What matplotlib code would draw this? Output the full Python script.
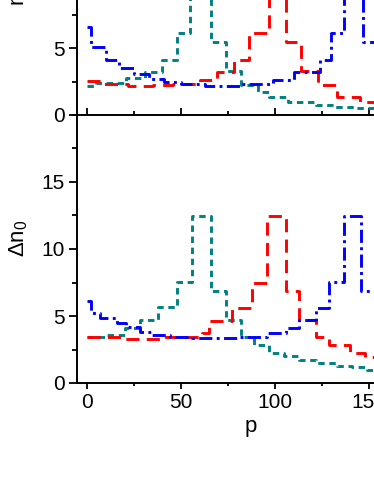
import numpy as np
import matplotlib
matplotlib.use("Agg")
import matplotlib.pyplot as plt
from matplotlib.ticker import MultipleLocator, FixedLocator

plt.rcParams["font.family"] = ["Liberation Sans", "DejaVu Sans"]
plt.rcParams["mathtext.fontset"] = "custom"
plt.rcParams["mathtext.rm"] = "Liberation Sans"
plt.rcParams["mathtext.it"] = "Liberation Sans:italic"

# step data: value holds from p[i] to p[i+1]
# top panel (n0)
p_teal_top = [0, 5, 21, 31, 40, 48, 55, 66, 74, 82, 91, 97, 107, 122, 132, 143, 180]
n_teal_top = [2.16, 2.36, 2.74, 3.23, 4.1, 6.1, 12.0, 5.47, 3.3, 2.24, 1.74, 1.32, 1.0, 0.75, 0.62, 0.5, 0.5]

p_red_top = [0, 9, 22, 35, 46, 60, 69, 78, 86, 97, 106, 114, 123, 133, 145, 180]
n_red_top = [2.54, 2.31, 2.16, 2.22, 2.31, 2.6, 3.23, 4.1, 6.1, 12.0, 5.47, 3.3, 2.24, 1.32, 1.0, 1.0]

p_blue_top = [0, 2, 10, 17, 25, 33, 41, 50, 63, 82, 99, 110, 124, 130, 137, 147, 180]
n_blue_top = [6.6, 5.1, 4.1, 3.48, 3.06, 2.69, 2.49, 2.31, 2.16, 2.31, 2.6, 3.23, 4.1, 6.1, 12.0, 5.47, 5.47]

# bottom panel (delta n0)
p_teal_bot = [0, 10, 20, 28, 38, 48, 56, 66, 74, 82, 89, 97, 105, 113, 122, 133, 141, 149, 180]
d_teal_bot = [3.47, 3.6, 4.1, 4.67, 5.67, 7.54, 12.46, 6.9, 4.67, 3.47, 2.8, 2.27, 2.0, 1.75, 1.47, 1.3, 1.2, 0.97, 0.97]

p_red_bot = [0, 18, 40, 50, 61, 65, 77, 88, 96, 106, 113, 122, 129, 140, 148, 180]
d_red_bot = [3.47, 3.32, 3.4, 3.47, 3.72, 4.6, 5.6, 7.5, 12.46, 6.9, 4.67, 3.47, 2.8, 2.27, 1.97, 1.97]

p_blue_bot = [0, 2, 7, 16, 21, 28, 34, 44, 56, 80, 96, 106, 113, 122, 129, 137, 146, 180]
d_blue_bot = [6.1, 5.2, 4.85, 4.5, 4.2, 3.84, 3.6, 3.47, 3.35, 3.47, 3.74, 4.1, 4.72, 5.6, 7.54, 12.46, 6.9, 6.9]

teal = "#008080"
red = "#ff0000"
blue = "#0000ff"
lw = 2.1
ls_teal = (0, (2.2, 1.6))
ls_red = (0, (4.5, 2.5))
ls_blue = (0, (4.5, 1.5, 1.0, 1.5))

W, H = 374, 484
fig = plt.figure(figsize=(W / 100, H / 100), dpi=100)
left = 77 / W
ax_w = 347 / W
ax_h = 268 / H
ax_bot = fig.add_axes([left, (H - 383) / H, ax_w, ax_h])
ax_top = fig.add_axes([left, (H - 115) / H, ax_w, ax_h])

for ax, series in ((ax_top, [(p_teal_top, n_teal_top, teal, ls_teal),
                             (p_red_top, n_red_top, red, ls_red),
                             (p_blue_top, n_blue_top, blue, ls_blue)]),
                   (ax_bot, [(p_teal_bot, d_teal_bot, teal, ls_teal),
                             (p_red_bot, d_red_bot, red, ls_red),
                             (p_blue_bot, d_blue_bot, blue, ls_blue)])):
    for px, vals, c, ls in series:
        ax.plot(px, vals, drawstyle="steps-post", color=c, linestyle=ls, lw=lw)
    ax.set_xlim(-5.3, 179.3)
    ax.set_ylim(0, 20)
    ax.xaxis.set_major_locator(MultipleLocator(50))
    ax.xaxis.set_minor_locator(MultipleLocator(25))
    ax.yaxis.set_minor_locator(MultipleLocator(2.5))
    ax.spines["right"].set_visible(False)
    for s in ax.spines.values():
        s.set_linewidth(1.4)
    ax.tick_params(axis="y", which="major", direction="out", length=6, width=1.3,
                   labelsize=15, pad=3)
    ax.tick_params(axis="y", which="minor", direction="out", length=3.5, width=1.3)

ax_top.spines["top"].set_visible(False)
ax_bot.spines["top"].set_visible(False)
ax_top.yaxis.set_major_locator(MultipleLocator(5))
ax_bot.yaxis.set_major_locator(FixedLocator([0, 5, 10, 15]))

ax_top.tick_params(axis="x", which="major", direction="in", length=5.4, width=1.3,
                   labelbottom=False)
ax_top.tick_params(axis="x", which="minor", direction="in", length=3.2, width=1.3)
ax_bot.tick_params(axis="x", which="major", direction="out", length=4.3, width=1.3,
                   labelsize=15, pad=3)
ax_bot.tick_params(axis="x", which="minor", direction="out", length=2.4, width=1.3)

ax_bot.set_xlabel("p", fontsize=16, labelpad=3)
ax_bot.set_ylabel("Δn$_0$", fontsize=16)
ax_bot.yaxis.set_label_coords(-0.135, 0.54)
ax_top.set_ylabel("n$_0$", fontsize=16)
ax_top.yaxis.set_label_coords(-0.135, 0.45)

fig.savefig("out.png", dpi=100)
